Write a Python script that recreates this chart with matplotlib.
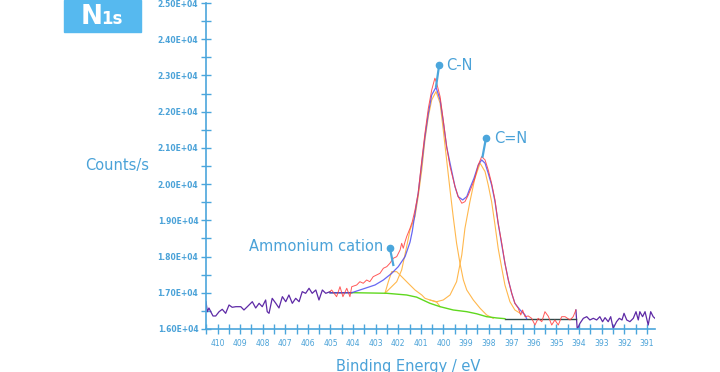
import matplotlib
matplotlib.use("Agg")
import matplotlib.pyplot as plt
from matplotlib.patches import Rectangle
from matplotlib.ticker import MultipleLocator, FuncFormatter

# raw spectrum outside the fit window (purple)
raw_left_ev = [410.51, 410.45, 410.38, 410.30, 410.20, 410.08, 409.93, 409.79,
               409.64, 409.49, 409.35, 409.19, 408.97, 408.83, 408.68, 408.46,
               408.31, 408.16, 408.02, 407.87, 407.80, 407.72, 407.58, 407.42,
               407.28, 407.13, 406.98, 406.84, 406.69, 406.54, 406.39, 406.25,
               406.10, 405.95, 405.81, 405.65, 405.51, 405.36, 405.21, 405.02]
raw_left_counts = [16754, 16478, 16580, 16478, 16359, 16359, 16478, 16544,
                   16433, 16663, 16599, 16616, 16616, 16525, 16616, 16754,
                   16580, 16709, 16616, 16801, 16478, 16433, 16847, 16709,
                   16580, 16893, 16754, 16939, 16709, 16847, 16754, 17031,
                   16985, 17124, 16985, 17077, 16801, 17077, 16985, 17031]

raw_right_ev = [394.14, 394.08, 393.96, 393.81, 393.66, 393.52, 393.37, 393.22,
                393.08, 392.96, 392.85, 392.71, 392.60, 392.49, 392.34, 392.22,
                392.10, 392.01, 391.89, 391.75, 391.60, 391.48, 391.38, 391.31,
                391.19, 391.08, 390.94, 390.83, 390.72, 390.64]
raw_right_counts = [16525, 15990, 16157, 16295, 16340, 16249, 16295, 16249,
                    16340, 16200, 16313, 16202, 16340, 16019, 16202, 16295,
                    16249, 16433, 16249, 16202, 16295, 16478, 16249, 16478,
                    16340, 16478, 16110, 16478, 16340, 16295]

# raw spectrum inside the fit window (red)
raw_fit_ev = [405.02, 404.95, 404.73, 404.58, 404.45, 404.28, 404.14, 404.06,
              403.84, 403.70, 403.55, 403.40, 403.26, 403.11, 402.96, 402.81,
              402.66, 402.51, 402.37, 402.22, 402.07, 401.92, 401.85, 401.78,
              401.70, 401.63, 401.48, 401.38, 401.26, 401.12, 400.96, 400.82,
              400.67, 400.52, 400.38, 400.30, 400.15, 400.01, 399.86, 399.71,
              399.49, 399.35, 399.19, 399.05, 398.90, 398.75, 398.61, 398.46,
              398.31, 398.16, 398.02, 397.87, 397.72, 397.58, 397.42, 397.28,
              397.13, 396.98, 396.84, 396.69, 396.58, 396.50, 396.39, 396.25,
              396.10, 395.95, 395.81, 395.65, 395.51, 395.36, 395.21, 395.07,
              394.92, 394.77, 394.62, 394.40, 394.26, 394.14]
raw_fit_counts = [17031, 17077, 16892, 17168, 16892, 17124, 16892, 17168,
                  17215, 17306, 17262, 17353, 17306, 17445, 17491, 17538,
                  17677, 17721, 17815, 17953, 17997, 18182, 18367, 18229,
                  18411, 18549, 18781, 18964, 19287, 19748, 20668, 21405,
                  22096, 22601, 22925, 22786, 22416, 21773, 21035, 20483,
                  19930, 19654, 19472, 19516, 19701, 19930, 20162, 20530,
                  20759, 20668, 20392, 20024, 19563, 18919, 18367, 17815,
                  17353, 16986, 16710, 16571, 16387, 16525, 16340, 16360,
                  16295, 16110, 16295, 16202, 16478, 16350, 16110, 16250,
                  16110, 16340, 16340, 16249, 16340, 16525]

# fitted envelope (blue)
env_ev = [405.02, 404.06, 403.47, 403.03, 402.66, 402.29, 402.00, 401.70,
          401.48, 401.38, 401.26, 401.12, 400.96, 400.82, 400.67, 400.52,
          400.33, 400.15, 400.01, 399.86, 399.71, 399.49, 399.35, 399.15,
          398.97, 398.83, 398.65, 398.46, 398.31, 398.16, 398.02, 397.87,
          397.72, 397.58, 397.42, 397.28, 397.13, 396.98, 396.84, 396.61,
          396.39, 396.32]
env_counts = [17000, 17003, 17124, 17215, 17353, 17538, 17721, 17997,
              18400, 18700, 19196, 19748, 20577, 21311, 21958, 22463,
              22676, 22325, 21726, 21035, 20577, 19930, 19654, 19563,
              19654, 19886, 20162, 20530, 20668, 20577, 20300, 19977,
              19516, 18919, 18320, 17815, 17353, 16986, 16710, 16525,
              16387, 16285]

# Shirley background (green) and its flat end pieces (dark)
bg_ev = [404.06, 402.51, 401.63, 401.19, 400.60, 400.15, 399.57, 398.97,
         398.53, 398.09, 397.65, 397.28]
bg_counts = [17003, 16986, 16939, 16880, 16710, 16616, 16525, 16478,
             16420, 16340, 16305, 16285]
base_left_ev = [405.02, 404.06]
base_left_counts = [17000, 17003]
base_right_ev = [397.28, 394.14]
base_right_counts = [16285, 16285]

# components (orange)
amm_ev = [402.59, 402.44, 402.29, 402.07, 401.85, 401.56, 401.26, 400.96,
          400.82, 400.60, 400.30, 400.15]
amm_counts = [16986, 17306, 17583, 17583, 17445, 17262, 17077, 16939,
              16848, 16801, 16740, 16616]
cn_ev = [402.59, 402.07, 401.85, 401.63, 401.48, 401.26, 401.12, 400.96,
         400.82, 400.67, 400.52, 400.33, 400.15, 400.01, 399.86, 399.71,
         399.57, 399.42, 399.27, 399.12, 398.97, 398.68, 398.38, 398.09,
         397.80]
cn_counts = [16986, 17306, 17630, 18273, 18734, 19102, 19654, 20392,
             21220, 21864, 22325, 22554, 22234, 21496, 20668, 19839,
             19102, 18367, 17815, 17353, 17077, 16801, 16572, 16387,
             16295]
cnd_ev = [400.60, 400.30, 400.01, 399.71, 399.42, 399.19, 399.05, 398.83,
          398.61, 398.38, 398.16, 398.02, 397.87, 397.72, 397.58, 397.42,
          397.28, 397.06, 396.84, 396.61]
cnd_counts = [16801, 16754, 16801, 16939, 17306, 18044, 18781, 19516,
              20162, 20577, 20345, 19977, 19516, 18872, 18229, 17677,
              17215, 16754, 16525, 16434]

BLUE = "#4ba6dc"
TEXT = "#4aa2d8"


def main():
    fig = plt.figure(figsize=(7.2, 3.72), dpi=100)
    ax = fig.add_axes([0.2861, 0.1156, 0.6236, 0.8763])

    ax.plot(raw_left_ev, raw_left_counts, color="#5e2aa6", lw=0.9)
    ax.plot(raw_right_ev, raw_right_counts, color="#5e2aa6", lw=0.9)
    ax.plot(base_left_ev, base_left_counts, color="#2f4a4a", lw=1.0)
    ax.plot(base_right_ev, base_right_counts, color="#2f4a4a", lw=1.0)
    for ev, c in [(amm_ev, amm_counts), (cn_ev, cn_counts), (cnd_ev, cnd_counts)]:
        ax.plot(ev, c, color="#ffb84d", lw=0.8)
    ax.plot(bg_ev, bg_counts, color="#5fd81e", lw=1.0)
    ax.plot(env_ev, env_counts, color="#4d4df0", lw=0.9, alpha=0.85)
    ax.plot(raw_fit_ev, raw_fit_counts, color="#ff3b3b", lw=0.7, alpha=0.85)

    # peak labels with pointer
    labels = [("C-N", (400.33, 22692), (400.19, 23292), (399.89, 23280), "left"),
              ("C=N", (398.27, 20759), (398.12, 21267), (397.77, 21250), "left"),
              ("Ammonium cation", (402.22, 17768), (402.37, 18229), (402.68, 18290), "right")]
    for text, tip, dot, pos, ha in labels:
        ax.plot([tip[0], dot[0]], [tip[1], dot[1]], color=BLUE, lw=1.6)
        ax.plot(dot[0], dot[1], "o", color=BLUE, markersize=4.5)
        ax.text(pos[0], pos[1], text, color=TEXT, fontsize=10.5,
                ha=ha, va="center")

    ax.set_xlim(410.51, 390.64)
    ax.set_ylim(16000, 25000)
    ax.xaxis.set_major_locator(MultipleLocator(1))
    ax.xaxis.set_minor_locator(MultipleLocator(0.5))
    ax.yaxis.set_major_locator(MultipleLocator(1000))
    ax.yaxis.set_minor_locator(MultipleLocator(500))
    ax.xaxis.set_major_formatter(FuncFormatter(lambda v, p: "%d" % round(v)))
    ax.yaxis.set_major_formatter(FuncFormatter(lambda v, p: "%.2fE+04" % (v / 1e4)))

    for side in ["top", "right"]:
        ax.spines[side].set_visible(False)
    for side in ["left", "bottom"]:
        ax.spines[side].set_color(BLUE)
        ax.spines[side].set_linewidth(1.2)
    ax.tick_params(axis="both", which="both", direction="inout", color=BLUE,
                   width=1.0, length=7)
    ax.tick_params(axis="x", labelsize=5.5, labelcolor=TEXT, pad=4)
    ax.tick_params(axis="y", labelsize=5.5, labelcolor=TEXT, pad=2)
    for lab in ax.get_yticklabels():
        lab.set_fontweight("bold")

    fig.text(0.1625, 0.556, "Counts/s", color=TEXT, fontsize=10.5,
             ha="center", va="center")
    fig.text(0.5667, 0.016, "Binding Energy / eV", color=TEXT, fontsize=10.5,
             ha="center", va="center")

    # title box
    fig.patches.append(Rectangle((64 / 720, 1 - 32 / 372), 77 / 720, 32 / 372,
                                 transform=fig.transFigure, color="#56b9ef",
                                 zorder=0))
    fig.text(81 / 720, 1 - 24.5 / 372, "N", color="white", fontsize=19,
             fontweight="bold", ha="left", va="baseline")
    fig.text(101 / 720, 1 - 24.5 / 372, "1s", color="white", fontsize=12,
             fontweight="bold", ha="left", va="baseline")

    fig.savefig("out.png", dpi=100)


if __name__ == '__main__':
    main()
